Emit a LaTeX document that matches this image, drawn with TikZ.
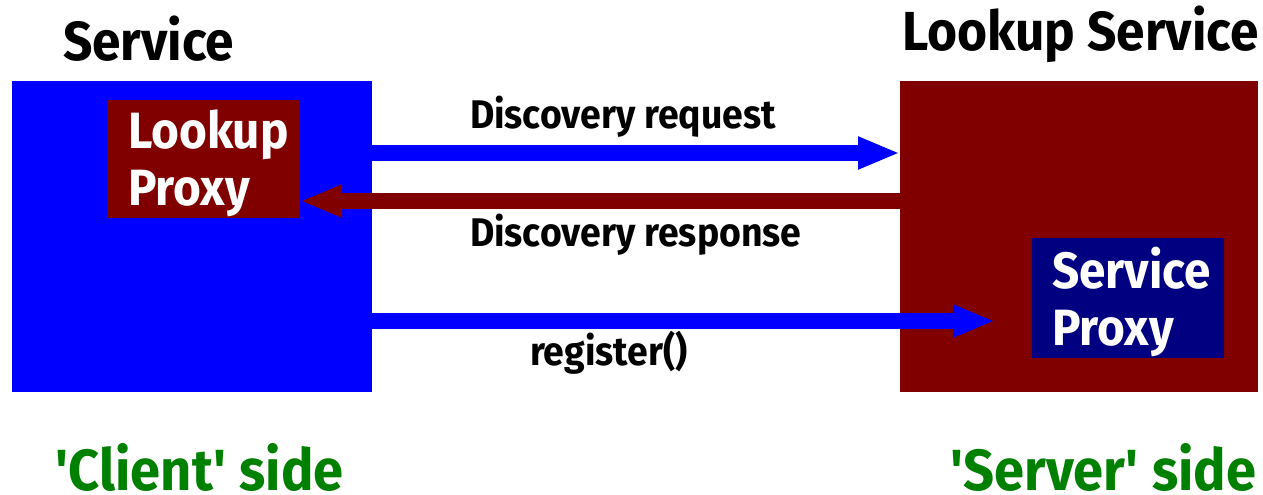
\documentclass[tikz,border=0pt]{standalone}
\usepackage{fontspec}
\setmainfont{Fira Sans}[FakeStretch=0.935]
\usetikzlibrary{arrows.meta}
\definecolor{netblue}{RGB}{0,0,255}
\definecolor{maroon}{RGB}{128,0,0}
\definecolor{navyblue}{RGB}{0,0,128}
\definecolor{sidegreen}{RGB}{0,128,0}
\tikzset{
  block/.style={anchor=north west, inner sep=0pt, outer sep=0pt},
  txt/.style={anchor=base west, inner sep=0pt, outer sep=0pt, align=left},
  flow/.style={line width=16pt, -{Triangle[length=42pt,width=30pt]}},
}
\begin{document}
\begin{tikzpicture}[x=1pt,y=-1pt]
\useasboundingbox (0,0) rectangle (1263,495);

\node[block, fill=netblue, minimum width=360pt, minimum height=311pt] (client) at (12,81) {}; % service box
\node[block, fill=maroon, minimum width=358pt, minimum height=311pt] (lookup) at (900,81) {}; % lookup service box
\node[block, fill=maroon, minimum width=193pt, minimum height=118pt] (lproxy) at (107,100) {}; % lookup proxy
\node[block, fill=navyblue, minimum width=192pt, minimum height=120pt] (sproxy) at (1032,238) {}; % service proxy

\node[txt, text=white, font=\bfseries\fontsize{51}{57}\selectfont] (lproxytxt) at (128,205) {Lookup\\Proxy};
\node[txt, text=white, font=\bfseries\fontsize{51}{57}\selectfont] (sproxytxt) at (1052,345) {Service\\Proxy};

\node[txt, font=\bfseries\fontsize{55}{55}\selectfont] (clientttl) at (63,60) {Service};
\node[txt, font=\bfseries\fontsize{55}{55}\selectfont] (lookupttl) at (902,51) {Lookup Service};

\coordinate (req) at (0,153);
\coordinate (resp) at (0,201);
\coordinate (reg) at (0,321);
\draw[flow, netblue] (client.east |- req) -- (lookup.west |- req); % request
\draw[flow, maroon] (lookup.west |- resp) -- (lproxy.east |- resp); % response
\draw[flow, netblue, shorten >=37pt] (client.east |- reg) -- (sproxy.west |- reg); % register

\node[txt, font=\bfseries\fontsize{40}{40}\selectfont] (reqtxt) at (470,128) {Discovery request};
\node[txt, font=\bfseries\fontsize{40}{40}\selectfont] (resptxt) at (470,246) {Discovery response};
\node[txt, font=\bfseries\fontsize{40}{40}\selectfont] (regtxt) at (530,365) {register()};

\node[txt, text=sidegreen, font=\bfseries\fontsize{58}{58}\selectfont] (clientside) at (55,490) {\textquotesingle Client\textquotesingle{} side};
\node[txt, text=sidegreen, font=\bfseries\fontsize{58}{58}\selectfont] (serverside) at (950,490) {\textquotesingle Server\textquotesingle{} side};
\end{tikzpicture}
\end{document}
